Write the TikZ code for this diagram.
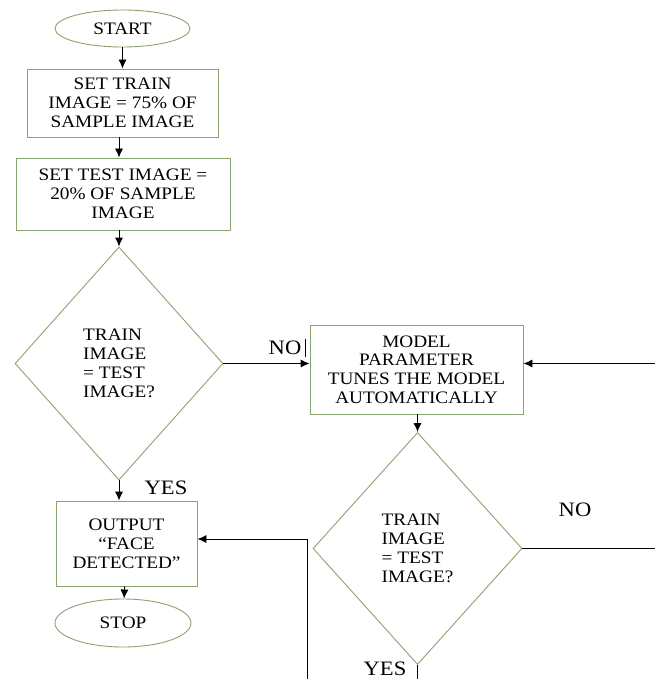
\documentclass[tikz,border=0pt]{standalone}
\usepackage{fontspec}
\setmainfont{Liberation Serif}[FakeStretch=1.1]
\usetikzlibrary{shapes.geometric,arrows.meta}
\definecolor{boxgreen}{RGB}{138,164,112}
\begin{document}
\begin{tikzpicture}[x=1pt,y=-1pt,
  txt/.style={font=\fontsize{17.5}{18.8}\selectfont},
  box/.style={draw=boxgreen, line width=0.9pt, rectangle, inner sep=0pt, align=center, txt},
  term/.style={draw=boxgreen, line width=0.9pt, ellipse, inner sep=0pt, align=center, txt},
  dec/.style={draw=boxgreen, line width=0.9pt, diamond, inner sep=0pt, align=left, txt},
  lbl/.style={font=\fontsize{20.5}{21}\selectfont, inner sep=0pt},
  conn/.style={draw=black, line width=0.9pt, -{Latex[length=9pt,width=8pt]}},
  plain/.style={draw=black, line width=0.9pt}]
\useasboundingbox (0,0) rectangle (655,679);
\fill[white] (0,0) rectangle (655,679);

\node[term, minimum width=135pt, minimum height=37pt] (start) at (122.5,28.5) {START};
\node[box, minimum width=191pt, minimum height=68pt] (train) at (122.5,103) {SET TRAIN\\IMAGE = 75\% OF\\SAMPLE IMAGE};
\node[box, minimum width=214pt, minimum height=72pt] (test) at (123,194) {SET TEST IMAGE =\\20\% OF SAMPLE\\IMAGE};
\node[dec, minimum width=208pt, minimum height=233pt] (d1) at (119,363.5) {TRAIN\\IMAGE\\= TEST\\IMAGE?};
\node[box, minimum width=213pt, minimum height=89pt] (tune) at (416.5,369.5) {MODEL\\PARAMETER\\TUNES THE MODEL\\AUTOMATICALLY};
\node[dec, minimum width=209pt, minimum height=232pt] (d2) at (417.5,548.5) {TRAIN\\IMAGE\\= TEST\\IMAGE?};
\node[box, minimum width=141pt, minimum height=85pt] (out) at (126.5,543.5) {OUTPUT\\“FACE\\DETECTED”};
\node[term, minimum width=136pt, minimum height=48pt] (stop) at (123,623) {STOP};

\node[lbl] (no1) at (285,348) {NO};
\node[lbl] (yes1) at (166,488) {YES};
\node[lbl] (no2) at (575,510) {NO};
\node[lbl] (yes2) at (385,669) {YES};
\coordinate (bar1) at (305,339);
\coordinate (bar2) at (305,357);
\draw[plain] (bar1) -- (bar2);

\coordinate (rin) at (655,363.5);
\coordinate (rout) at (655,548.5);
\coordinate (bot2) at (417.5,679);
\coordinate (botL) at (307,679);
\coordinate (cornerL) at (307,539);

\draw[conn] (start) -- (train);
\draw[conn] (train.south -| d1.north) -- (test.north -| d1.north);
\draw[conn] (test.south -| d1.north) -- (d1.north);
\draw[conn] (d1.east) -- (tune.west |- d1.east);
\draw[conn] (d1.south) -- (out.north -| d1.south);
\draw[conn] (out) -- (stop);
\draw[conn] (rin) -- (tune.east |- rin);
\draw[conn] (tune.south -| d2.north) -- (d2.north);
\draw[plain] (d2.east) -- (rout);
\draw[plain] (d2.south) -- (bot2);
\draw[conn] (botL) -- (cornerL) -- (out.east |- cornerL);
\end{tikzpicture}
\end{document}
